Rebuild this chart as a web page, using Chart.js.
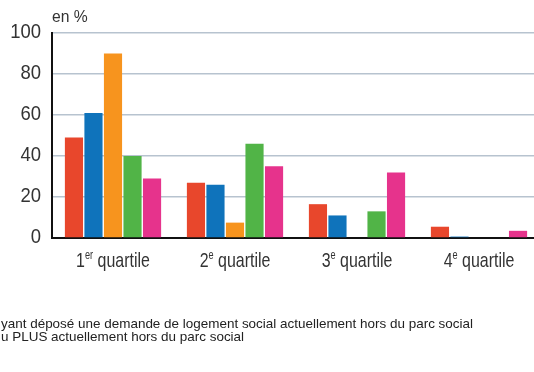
<!DOCTYPE html>
<html>
<head>
<meta charset="utf-8">
<script src="https://cdn.jsdelivr.net/npm/chart.js@4/dist/chart.umd.min.js"></script>
<style>
  html, body { margin: 0; padding: 0; background: #fff; overflow: hidden; }
  #wrap { width: 560px; height: 372px; }
</style>
</head>
<body>
<div id="wrap"><canvas id="c" width="560" height="372"></canvas></div>
<script>
// quartiles (number + superscript suffix)
var quartileNum = ['1', '2', '3', '4'];
var quartileSup = ['er', 'e', 'e', 'e'];
var quartileWord = ' quartile';

var serieRouge = [49, 27, 16.5, 5.5];
var serieBleue = [61, 26, 11, 0.7];
var serieOrange = [90, 7.5, 0, 0];
var serieVerte = [40, 46, 13, 0];
var serieRose = [29, 35, 32, 3.5];

var yTicks = [0, 20, 40, 60, 80, 100];

var notes = [
    'yant déposé une demande de logement social actuellement hors du parc social',
    'u PLUS actuellement hors du parc social'
];

var FONT = '"Liberation Sans", Arial, sans-serif';

var labels = quartileNum.map(function (n, i) { return n + quartileSup[i] + quartileWord; });

function serie(label, data, color) {
    return {
        label: label,
        data: data,
        backgroundColor: color,
        borderWidth: 0,
        barPercentage: 0.93,
        categoryPercentage: 0.8
    };
}

// text squeezed horizontally (the original typeface is a narrow one)
function narrowText(ctx, text, x, y, sx) {
    ctx.save();
    ctx.translate(x, y);
    ctx.scale(sx, 1);
    ctx.fillText(text, 0, 0);
    ctx.restore();
}

// y labels, x labels with superscripts, unit, and the notes under the chart
var extras = {
    id: 'extras',
    afterDraw: function (chart) {
        var ctx = chart.ctx;
        var x = chart.scales.x;
        var y = chart.scales.y;
        ctx.save();
        ctx.fillStyle = '#333';
        ctx.textBaseline = 'alphabetic';

        ctx.font = '21px ' + FONT;
        ctx.textAlign = 'right';
        yTicks.forEach(function (v) {
            narrowText(ctx, String(v), 41, y.getPixelForValue(v) + 4.5, 0.88);
        });

        ctx.textAlign = 'left';
        var sx = 0.76;
        quartileNum.forEach(function (n, i) {
            var big = '21px ' + FONT, small = '12px ' + FONT;
            ctx.font = big;
            var wn = ctx.measureText(n).width * sx;
            var ww = ctx.measureText(quartileWord).width * sx;
            ctx.font = small;
            var ws = ctx.measureText(quartileSup[i]).width * sx;
            var cx = x.getPixelForValue(i);
            var left = cx - (wn + ws + ww) / 2;
            var base = 267;
            ctx.font = big;
            narrowText(ctx, n, left, base, sx);
            ctx.font = small;
            narrowText(ctx, quartileSup[i], left + wn, base - 8, sx);
            ctx.font = big;
            narrowText(ctx, quartileWord, left + wn + ws, base, sx);
        });

        ctx.font = '16px ' + FONT;
        narrowText(ctx, 'en %', 52, 22, 0.98);

        ctx.fillStyle = '#222';
        ctx.font = '13px ' + FONT;
        var k = 472 / ctx.measureText(notes[0]).width;
        narrowText(ctx, notes[0], 1, 328, k);
        narrowText(ctx, notes[1], 1, 341, k);
        ctx.restore();
    }
};

new Chart(document.getElementById('c'), {
    type: 'bar',
    data: {
        labels: labels,
        datasets: [
            serie('Série 1', serieRouge, '#e8472c'),
            serie('Série 2', serieBleue, '#0f73bb'),
            serie('Série 3', serieOrange, '#f7941e'),
            serie('Série 4', serieVerte, '#51b447'),
            serie('Série 5', serieRose, '#e6338c')
        ]
    },
    options: {
        responsive: false,
        animation: false,
        layout: { padding: { left: 0, top: 33, right: 20, bottom: 0 } },
        plugins: {
            legend: { display: false },
            tooltip: { enabled: false },
            title: { display: false }
        },
        scales: {
            x: {
                grid: { display: false },
                border: { display: true, color: '#111', width: 2 },
                ticks: { display: false },
                afterFit: function (s) { s.height = 372 - 238; }
            },
            y: {
                min: 0,
                max: 100,
                afterBuildTicks: function (s) {
                    s.ticks = yTicks.map(function (v) { return { value: v }; });
                },
                grid: { color: '#b7c3cf', lineWidth: 1.5, drawTicks: false },
                border: { display: true, color: '#111', width: 2 },
                ticks: { display: false },
                afterFit: function (s) { s.width = 52; }
            }
        }
    },
    plugins: [extras]
});
</script>
</body>
</html>
